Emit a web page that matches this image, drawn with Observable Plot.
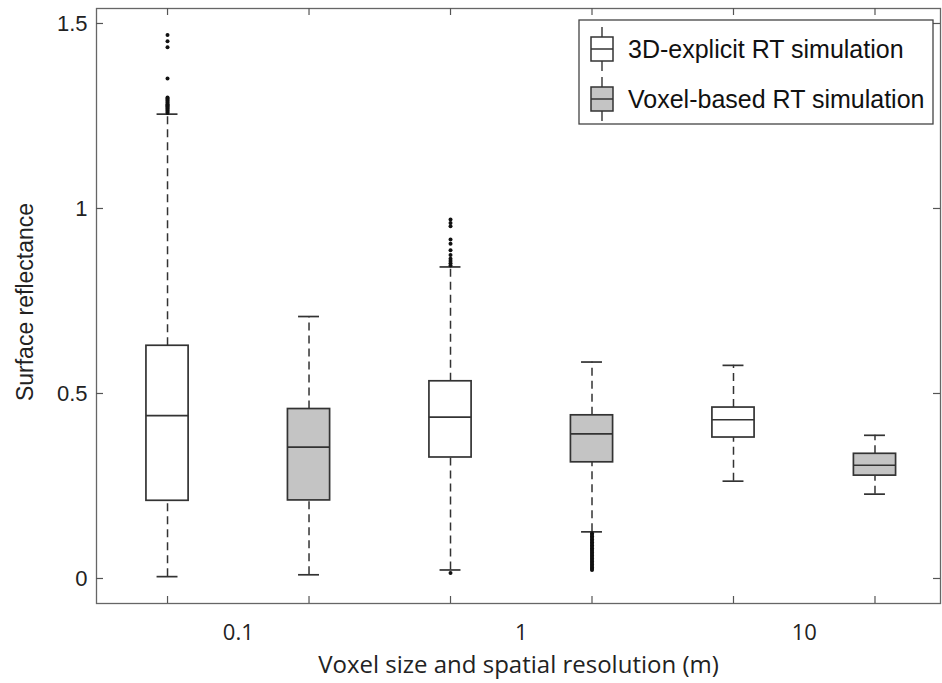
<!DOCTYPE html>
<html>
<head>
<meta charset="utf-8">
<script src="https://cdn.jsdelivr.net/npm/d3@7"></script>
<script src="https://cdn.jsdelivr.net/npm/@observablehq/plot@0.6"></script>
<style>
  html, body { margin: 0; padding: 0; background: #fff; }
  #chart svg { display: block; }
</style>
</head>
<body>
<div id="chart"></div>
<script>
// ---- data ----
const resolutions = ["0.1", "1", "10"];
const methods = ["3D-explicit RT simulation", "Voxel-based RT simulation"];
const groupPos = [1, 2, 3, 4, 5, 6];
const lowerWhisker = [0.005, 0.010, 0.023, 0.126, 0.263, 0.228];
const q1 = [0.210, 0.211, 0.327, 0.314, 0.381, 0.278];
const median = [0.440, 0.355, 0.436, 0.391, 0.429, 0.306];
const q3 = [0.629, 0.458, 0.533, 0.441, 0.462, 0.337];
const upperWhisker = [1.255, 0.708, 0.842, 0.585, 0.576, 0.387];

const outliers1 = [1.469, 1.452, 1.436, 1.351, 1.300, 1.297, 1.294, 1.291, 1.288, 1.285, 1.282, 1.279, 1.276, 1.273, 1.270, 1.267, 1.264, 1.261, 1.258];
const outliers3 = [0.970, 0.961, 0.952, 0.916, 0.905, 0.887, 0.874, 0.864, 0.858, 0.852, 0.846, 0.015];
const outliers4 = [0.122, 0.118, 0.114, 0.110, 0.106, 0.102, 0.098, 0.094, 0.090, 0.086, 0.082, 0.078, 0.074, 0.070, 0.066, 0.062, 0.058, 0.054, 0.050, 0.046, 0.042, 0.038, 0.034, 0.030, 0.026, 0.023];

const yTicks = [0, 0.5, 1, 1.5];
const yTickLabels = ["0", "0.5", "1", "1.5"];
const xLabelPos = [1.5, 3.5, 5.5];
const fills = ["#ffffff", "#c4c4c4"];

// ---- build tables ----
const boxes = groupPos.map((p, i) => ({
  pos: p,
  method: methods[i % 2],
  res: resolutions[Math.floor(i / 2)],
  lo: lowerWhisker[i], q1: q1[i], med: median[i], q3: q3[i], hi: upperWhisker[i]
}));
const outliers = [
  ...outliers1.map(v => ({pos: groupPos[0], v})),
  ...outliers3.map(v => ({pos: groupPos[2], v})),
  ...outliers4.map(v => ({pos: groupPos[3], v}))
];

const W = 942, H = 683;
const mL = 96, mR = 2, mT = 8, mB = 80;
const frameW = W - mL - mR, frameH = H - mT - mB;
const boxHalf = 0.149, capHalf = 0.074;
const ink = "#333";

const plot = Plot.plot({
  width: W,
  height: H,
  marginLeft: mL, marginRight: mR, marginTop: mT, marginBottom: mB,
  style: {fontFamily: "'Liberation Sans', Arial, sans-serif", fontSize: "22px", background: "#fff", color: "#222"},
  x: {type: "linear", domain: [0.498, 6.463]},
  y: {domain: [-0.0676, 1.5405]},
  color: {domain: methods, range: fills},
  marks: [
    // whiskers (dashed)
    Plot.ruleX(boxes, {x: "pos", y1: "lo", y2: "q1", stroke: ink, strokeWidth: 1.5, strokeDasharray: "8,5"}),
    Plot.ruleX(boxes, {x: "pos", y1: "q3", y2: "hi", stroke: ink, strokeWidth: 1.5, strokeDasharray: "8,5"}),
    // whisker caps
    Plot.ruleY(boxes, {y: "lo", x1: d => d.pos - capHalf, x2: d => d.pos + capHalf, stroke: ink, strokeWidth: 1.7}),
    Plot.ruleY(boxes, {y: "hi", x1: d => d.pos - capHalf, x2: d => d.pos + capHalf, stroke: ink, strokeWidth: 1.7}),
    // boxes
    Plot.rect(boxes, {x1: d => d.pos - boxHalf, x2: d => d.pos + boxHalf, y1: "q1", y2: "q3", fill: "method", stroke: ink, strokeWidth: 1.7}),
    // medians
    Plot.ruleY(boxes, {y: "med", x1: d => d.pos - boxHalf, x2: d => d.pos + boxHalf, stroke: ink, strokeWidth: 1.7}),
    // outliers
    Plot.dot(outliers, {x: "pos", y: "v", r: 2, fill: "#111", stroke: "none"}),
    // frame and inward ticks (MATLAB style)
    Plot.frame({stroke: "#666", strokeWidth: 1.3}),
    Plot.tickY(yTicks, {y: d => d, insetRight: frameW - 7, stroke: "#555", strokeWidth: 1.2}),
    Plot.tickY(yTicks, {y: d => d, insetLeft: frameW - 7, stroke: "#555", strokeWidth: 1.2}),
    Plot.tickX(groupPos, {x: d => d, insetTop: frameH - 7, stroke: "#555", strokeWidth: 1.2}),
    Plot.tickX(groupPos, {x: d => d, insetBottom: frameH - 7, stroke: "#555", strokeWidth: 1.2}),
    // axes labels
    Plot.axisY(yTicks, {tickSize: 0, tickPadding: 9, fontSize: 22, label: null, fill: "#222",
      tickFormat: (d, i) => yTickLabels[i]}),
    Plot.axisX(xLabelPos, {tickSize: 0, tickPadding: 21, fontSize: 22, label: null,
      tickFormat: (d, i) => resolutions[i], fontFamily: "'Open Sans', sans-serif", fill: "#222"}),
    Plot.text(["Voxel size and spatial resolution (m)"], {frameAnchor: "bottom", textAnchor: "middle", lineAnchor: "bottom",
      dy: 69, fontSize: 24, fontFamily: "'Open Sans', sans-serif", fill: "#222"}),
    Plot.text(["Surface reflectance"], {frameAnchor: "left", textAnchor: "middle", lineAnchor: "middle",
      dx: -71, dy: -4, rotate: -90, fontSize: 23, fill: "#222"})
  ]
});

document.getElementById("chart").appendChild(plot);

// ---- legend (inside the plot, upper right) ----
const svg = d3.select(plot);
const lg = svg.append("g").attr("class", "legend");
lg.append("rect").attr("x", 579).attr("y", 20).attr("width", 354).attr("height", 104)
  .attr("fill", "#fff").attr("stroke", "#444").attr("stroke-width", 1.3);
const rows = [49, 99];
methods.forEach((m, i) => {
  const cy = rows[i], cx = 602;
  const g = lg.append("g");
  g.append("line").attr("x1", cx).attr("x2", cx).attr("y1", cy - 22).attr("y2", cy + 22)
    .attr("stroke", ink).attr("stroke-width", 1.4);
  g.append("rect").attr("x", cx - 11).attr("y", cy - 12).attr("width", 22).attr("height", 24)
    .attr("fill", fills[i]).attr("stroke", ink).attr("stroke-width", 1.5);
  g.append("line").attr("x1", cx - 11).attr("x2", cx + 11).attr("y1", cy).attr("y2", cy)
    .attr("stroke", ink).attr("stroke-width", 1.5);
  g.append("text").attr("x", 628).attr("y", cy + 9).text(m)
    .attr("text-anchor", "start")
    .attr("font-size", 25).attr("fill", "#111")
    .attr("font-family", "'Liberation Sans', Arial, sans-serif");
});
</script>
</body>
</html>
